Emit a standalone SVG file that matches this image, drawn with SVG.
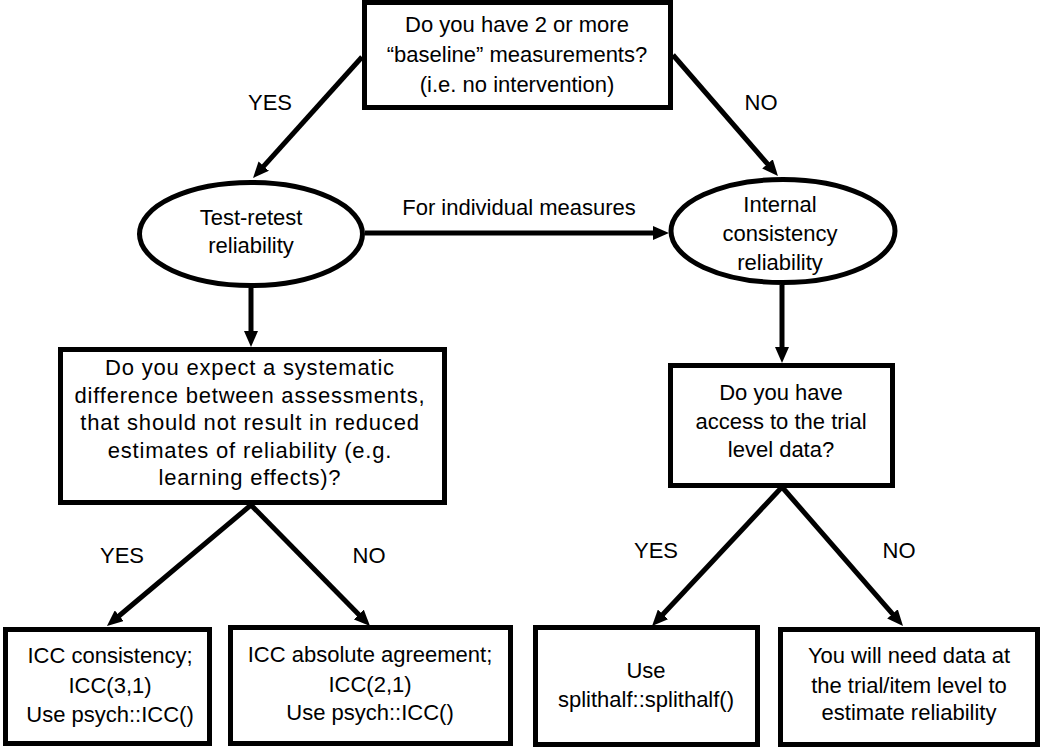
<svg xmlns="http://www.w3.org/2000/svg" width="1043" height="748" viewBox="0 0 1043 748">
<defs>
<style>
.box{fill:#fff;stroke:#000;stroke-width:5}
.conn{fill:none;stroke:#000;stroke-width:5}
text{font-family:"Liberation Sans",Arial,sans-serif;font-size:22px;fill:#000;text-anchor:middle}
.wide{letter-spacing:0.8px}
</style>
<marker id="arr" markerUnits="userSpaceOnUse" viewBox="0 0 16 14" markerWidth="16" markerHeight="14" refX="2" refY="7" orient="auto">
<path d="M0,0 L16,7 L0,14 Z" fill="#000"/>
</marker>
</defs>
<rect width="1043" height="748" fill="#fff"/>
<g id="connectors">
<line class="conn" x1="362" y1="57" x2="262.4" y2="167.6" marker-end="url(#arr)"/>
<line class="conn" x1="673" y1="55" x2="768.8" y2="165.4" marker-end="url(#arr)"/>
<line class="conn" x1="365" y1="233" x2="655" y2="233" marker-end="url(#arr)"/>
<line class="conn" x1="251" y1="288" x2="251" y2="333" marker-end="url(#arr)"/>
<line class="conn" x1="782" y1="285" x2="782" y2="349" marker-end="url(#arr)"/>
<line class="conn" x1="251" y1="505" x2="117.7" y2="617" marker-end="url(#arr)"/>
<line class="conn" x1="251" y1="505" x2="360.2" y2="616" marker-end="url(#arr)"/>
<line class="conn" x1="782" y1="487" x2="661.6" y2="615.8" marker-end="url(#arr)"/>
<line class="conn" x1="782" y1="487" x2="893.8" y2="615.4" marker-end="url(#arr)"/>
<text x="270" y="110">YES</text>
<text x="761" y="110">NO</text>
<text x="519" y="215">For individual measures</text>
<text x="122" y="563">YES</text>
<text x="369" y="563">NO</text>
<text x="656" y="558">YES</text>
<text x="899" y="558">NO</text>
</g>
<g id="q-baseline">
<rect class="box" x="364.5" y="2.5" width="306" height="105"/>
<text x="517" y="32">Do you have 2 or more</text>
<text x="517" y="62">“baseline” measurements?</text>
<text x="517" y="92">(i.e. no intervention)</text>
</g>
<g id="test-retest">
<ellipse class="box" cx="251" cy="234" rx="111.5" ry="51.5"/>
<text x="251" y="225">Test-retest</text>
<text x="251" y="253">reliability</text>
</g>
<g id="internal-consistency">
<ellipse class="box" cx="783" cy="231" rx="112" ry="51.5"/>
<text x="780" y="212">Internal</text>
<text x="780" y="241">consistency</text>
<text x="780" y="270">reliability</text>
</g>
<g id="q-systematic">
<rect class="box" x="60.5" y="349.5" width="384" height="153"/>
<text class="wide" x="250" y="375">Do you expect a systematic</text>
<text class="wide" x="250" y="402.5">difference between assessments,</text>
<text class="wide" x="250" y="430">that should not result in reduced</text>
<text class="wide" x="250" y="457.5">estimates of reliability (e.g.</text>
<text class="wide" x="250" y="485">learning effects)?</text>
</g>
<g id="q-trial">
<rect class="box" x="670.5" y="365.5" width="222" height="120"/>
<text x="781" y="400">Do you have</text>
<text x="781" y="428.5">access to the trial</text>
<text x="781" y="457">level data?</text>
</g>
<g id="icc-consistency">
<rect class="box" x="5.5" y="629.5" width="204" height="114"/>
<text x="110" y="663">ICC consistency;</text>
<text x="110" y="693">ICC(3,1)</text>
<text x="110" y="722">Use psych::ICC()</text>
</g>
<g id="icc-absolute">
<rect class="box" x="230.5" y="627.5" width="280" height="116"/>
<text x="370" y="662">ICC absolute agreement;</text>
<text x="370" y="692">ICC(2,1)</text>
<text x="370" y="720">Use psych::ICC()</text>
</g>
<g id="splithalf">
<rect class="box" x="535.5" y="627.5" width="222" height="117"/>
<text x="646" y="678">Use</text>
<text x="646" y="707">splithalf::splithalf()</text>
</g>
<g id="need-data">
<rect class="box" x="780.5" y="629.5" width="257" height="115"/>
<text x="909" y="663">You will need data at</text>
<text x="909" y="693">the trial/item level to</text>
<text x="909" y="720">estimate reliability</text>
</g>
</svg>
